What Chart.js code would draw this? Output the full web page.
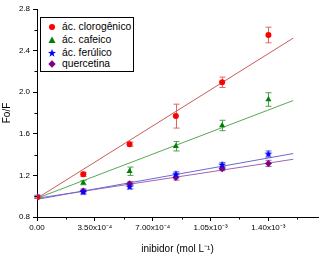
<!DOCTYPE html>
<html lang="pt">
<head>
<meta charset="UTF-8">
<title>Fo/F vs inibidor</title>
<style>
    body { margin: 0; background: #fff; }
    #wrap { position: relative; width: 323px; height: 257px; }
    #legend {
        position: absolute; left: 40px; top: 17px; width: 92px; height: 53px;
        border: 1px solid #000; background: #fff;
        font-family: Arial, "Liberation Sans", sans-serif; font-size: 10.3px; color: #000;
    }
    #legend .row { position: absolute; left: 0; height: 12px; line-height: 12px; white-space: nowrap; }
    #legend svg { position: absolute; left: 7px; top: 2px; }
    #legend span { position: absolute; left: 21px; top: 0; }
</style>
</head>
<body>
<div id="wrap">
    <canvas id="chart" width="323" height="257"></canvas>
    <div id="legend"></div>
</div>
<script src="https://cdn.jsdelivr.net/npm/chart.js"></script>
<script>
// concentration of inhibitor (mol/L)
const conc = [0, 2.8e-4, 5.6e-4, 8.4e-4, 1.12e-3, 1.40e-3];

const clorogenico = [0.99, 1.21, 1.50, 1.77, 2.095, 2.55];
const clorogenicoErr = [0.01, 0.02, 0.02, 0.115, 0.05, 0.075];
const cafeico = [0.99, 1.13, 1.24, 1.48, 1.68, 1.93];
const cafeicoErr = [0.01, 0.02, 0.04, 0.045, 0.05, 0.065];
const ferulico = [1.0, 1.04, 1.09, 1.21, 1.30, 1.405];
const ferulicoErr = [0.01, 0.02, 0.02, 0.025, 0.025, 0.03];
const quercetina = [0.99, 1.05, 1.12, 1.18, 1.265, 1.315];
const quercetinaErr = [0.01, 0.02, 0.02, 0.025, 0.02, 0.03];

// linear fits (end points)
const fitX = [0, 1.55e-3];
const clorogenicoFit = [0.98, 2.52];
const cafeicoFit = [0.98, 1.92];
const ferulicoFit = [0.97, 1.41];
const quercetinaFit = [0.98, 1.355];

const xTicks = [0, 3.5e-4, 7.0e-4, 1.05e-3, 1.40e-3];
const xTickLabels = ['0.00', '3.50x10⁻⁴', '7.00x10⁻⁴', '1.05x10⁻³', '1.40x10⁻³'];
const xMinor = [1.75e-4, 5.25e-4, 8.75e-4, 1.225e-3, 1.575e-3];
const yTicks = [0.8, 1.2, 1.6, 2.0, 2.4, 2.8];
const yMinor = [1.0, 1.4, 1.8, 2.2, 2.6];

const seriesNames = ['ác. clorogênico', 'ác. cafeico', 'ác. ferúlico', 'quercetina'];

Chart.defaults.font.family = 'Arial, "Liberation Sans", sans-serif';
Chart.defaults.color = '#000';

// filled five point star for the ferulic series
function makeStar(color, r) {
    const c = document.createElement('canvas');
    c.width = c.height = r * 2 + 2;
    const g = c.getContext('2d');
    g.fillStyle = color;
    g.beginPath();
    for (let i = 0; i < 10; i++) {
        const rad = i % 2 === 0 ? r : r * 0.45;
        const a = -Math.PI / 2 + i * Math.PI / 5;
        g.lineTo(r + 1 + rad * Math.cos(a), r + 1 + rad * Math.sin(a));
    }
    g.closePath();
    g.fill();
    return c;
}
const starImg = makeStar('#0000ff', 4);

const pts = ys => conc.map((x, i) => ({ x: x, y: ys[i] }));
const fitPts = ys => fitX.map((x, i) => ({ x: x, y: ys[i] }));

const markerSets = [
    { name: seriesNames[0], data: clorogenico, err: clorogenicoErr, color: '#ff0000', errColor: '#e06666', style: 'circle', radius: 3 },
    { name: seriesNames[1], data: cafeico, err: cafeicoErr, color: '#008000', errColor: '#4f9f4f', style: 'triangle', radius: 3.5 },
    { name: seriesNames[2], data: ferulico, err: ferulicoErr, color: '#0000ff', errColor: '#6a6ad8', style: starImg, radius: 4 },
    { name: seriesNames[3], data: quercetina, err: quercetinaErr, color: '#800080', errColor: '#a060b0', style: 'rectRot', radius: 3.5 }
];
const fitSets = [
    { data: clorogenicoFit, color: '#cc5a5a' },
    { data: cafeicoFit, color: '#5aa55a' },
    { data: ferulicoFit, color: '#6a6ad0' },
    { data: quercetinaFit, color: '#a064b4' }
];

const datasets = [];
fitSets.forEach(f => datasets.push({
    type: 'line', data: fitPts(f.data), borderColor: f.color, borderWidth: 1,
    pointRadius: 0, fill: false, order: 2
}));
markerSets.forEach(m => datasets.push({
    type: 'scatter', label: m.name, data: pts(m.data), pointStyle: m.style,
    pointRadius: m.radius, backgroundColor: m.color, borderColor: m.color, borderWidth: 0, order: 1
}));

// error bars drawn from the data through the scales
const errorBars = {
    id: 'errorBars',
    beforeDatasetsDraw(chart) {
        const ctx = chart.ctx, xs = chart.scales.x, ys = chart.scales.y;
        ctx.save();
        ctx.lineWidth = 1;
        markerSets.forEach(m => {
            ctx.strokeStyle = m.errColor;
            conc.forEach((c, i) => {
                const px = Math.round(xs.getPixelForValue(c)) + 0.5;
                const top = ys.getPixelForValue(m.data[i] + m.err[i]);
                const bot = ys.getPixelForValue(m.data[i] - m.err[i]);
                ctx.beginPath();
                ctx.moveTo(px, top); ctx.lineTo(px, bot);
                ctx.moveTo(px - 3, top); ctx.lineTo(px + 3, top);
                ctx.moveTo(px - 3, bot); ctx.lineTo(px + 3, bot);
                ctx.stroke();
            });
        });
        ctx.restore();
    }
};

// short minor ticks
const minorTicks = {
    id: 'minorTicks',
    afterDraw(chart) {
        const ctx = chart.ctx, xs = chart.scales.x, ys = chart.scales.y, a = chart.chartArea;
        ctx.save();
        ctx.strokeStyle = '#000';
        ctx.lineWidth = 1;
        ctx.beginPath();
        xMinor.forEach(v => {
            const px = Math.round(xs.getPixelForValue(v)) + 0.5;
            ctx.moveTo(px, a.bottom); ctx.lineTo(px, a.bottom + 2.5);
        });
        yMinor.forEach(v => {
            const py = Math.round(ys.getPixelForValue(v)) + 0.5;
            ctx.moveTo(a.left, py); ctx.lineTo(a.left - 2.5, py);
        });
        ctx.stroke();
        ctx.restore();
    }
};

new Chart(document.getElementById('chart'), {
    type: 'scatter',
    data: { datasets: datasets },
    options: {
        responsive: false,
        animation: false,
        layout: { padding: { top: 9, right: 5, left: 0, bottom: 0 } },
        plugins: { legend: { display: false }, tooltip: { enabled: false } },
        scales: {
            x: {
                type: 'linear', min: 0, max: 1.70e-3,
                afterBuildTicks: s => { s.ticks = xTicks.map(v => ({ value: v })); },
                afterFit: s => { s.height = 40; },
                ticks: { callback: (v, i) => xTickLabels[i], font: { size: 8 }, color: '#000', maxRotation: 0, autoSkip: false, padding: 2 },
                grid: { drawOnChartArea: false, tickLength: 4, color: '#000' },
                border: { color: '#000', width: 1 },
                title: { display: true, text: 'inibidor (mol L⁻¹)', font: { size: 10 }, color: '#000', padding: { top: 4, bottom: 2 } }
            },
            y: {
                type: 'linear', min: 0.8, max: 2.8,
                afterBuildTicks: s => { s.ticks = yTicks.map(v => ({ value: v })); },
                afterFit: s => { s.width = 37; },
                ticks: { callback: v => v.toFixed(1), font: { size: 8 }, color: '#000', padding: 3 },
                grid: { drawOnChartArea: false, tickLength: 4, color: '#000' },
                border: { color: '#000', width: 1 },
                title: { display: true, text: 'Fo/F', font: { size: 10 }, color: '#000', padding: { top: 1, bottom: 0 } }
            }
        }
    },
    plugins: [errorBars, minorTicks]
});

// legend inside the plot area
const shapes = [
    '<svg width="8" height="8"><circle cx="4" cy="4" r="3" fill="#ff0000"/></svg>',
    '<svg width="8" height="8"><polygon points="4,0.5 7.5,7 0.5,7" fill="#008000"/></svg>',
    '<svg width="8" height="8"><polygon points="4,0 5,2.8 8,3 5.6,4.8 6.5,7.8 4,6 1.5,7.8 2.4,4.8 0,3 3,2.8" fill="#0000ff"/></svg>',
    '<svg width="8" height="8"><polygon points="4,0.3 7.7,4 4,7.7 0.3,4" fill="#800080"/></svg>'
];
const rowTops = [3, 16, 29, 40];
const legend = document.getElementById('legend');
seriesNames.forEach((n, i) => {
    const row = document.createElement('div');
    row.className = 'row';
    row.style.top = rowTops[i] + 'px';
    row.innerHTML = shapes[i] + '<span>' + n + '</span>';
    legend.appendChild(row);
});
</script>
</body>
</html>
